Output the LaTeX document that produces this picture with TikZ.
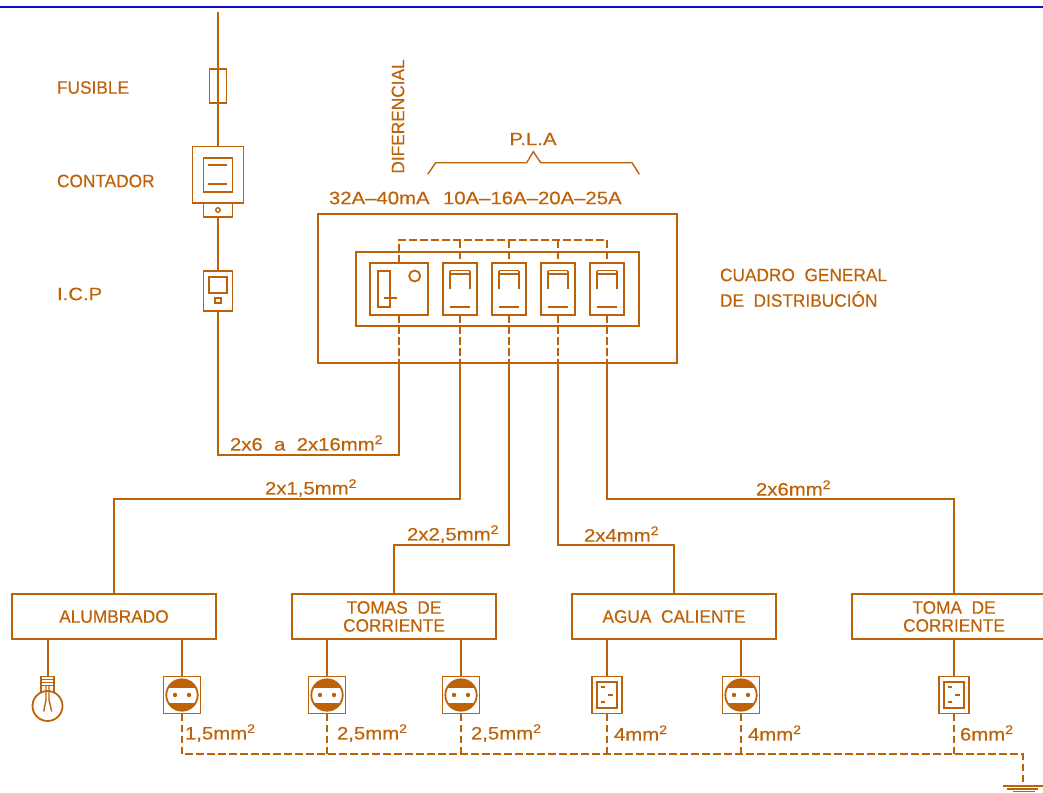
\documentclass[tikz,border=0pt]{standalone}
\usepackage{fontspec}
\setmainfont{Liberation Sans}
\newfontfamily\capsfont[FakeStretch=.96,FakeBold=.35]{Liberation Sans}
\newfontfamily\wirefont[FakeStretch=1.13,FakeBold=.35]{Liberation Sans}
\newcommand{\sqmm}{mm\raisebox{6.5pt}{\fontsize{12.5}{12.5}\selectfont 2}}
\definecolor{cad}{HTML}{BE6209}
\definecolor{sheet}{HTML}{0A0AD8}
\tikzset{
  wire/.style={draw=cad,line width=1.8pt},
  thinwire/.style={draw=cad,line width=1.4pt},
  dashwire/.style={draw=cad,line width=1.8pt,dash pattern=on 7.5pt off 3.5pt},
  cell/.style={draw=cad,line width=1.8pt,inner sep=0pt,outer sep=0pt},
  txt/.style={text=cad,font=\fontsize{18}{18}\selectfont\wirefont,inner sep=0pt,outer sep=0pt,anchor=west},
  captxt/.style={txt,font=\fontsize{18}{18}\selectfont\capsfont},
  load/.style={cell,minimum width=204.5pt,minimum height=45pt,text=cad,align=center,font=\fontsize{18}{18}\selectfont\capsfont},
  breaker/.style={cell,minimum width=34.5pt,minimum height=52.5pt},
  socket/.style={cell,minimum width=37pt,minimum height=37pt},
  heater/.style={cell,minimum width=30.5pt,minimum height=37pt}
}
\begin{document}
\begin{tikzpicture}[x=1pt,y=-1pt]
    \useasboundingbox (0,0) rectangle (1043,792);
    \draw[draw=sheet,line width=2pt] (0,7.5) -- (1043,7.5);

    % Acometida
    \coordinate (top) at (218,12);
    \node[cell,minimum width=17pt,minimum height=34pt] (fuse) at (218,86) {};
    \node[cell,minimum width=51pt,minimum height=56.5pt] (meter) at (218,174.7) {};
    \node[cell,minimum width=29pt,minimum height=34pt] (meterface) at (218,175) {};
    \node[cell,minimum width=29pt,minimum height=14pt] (meterbase) at (218,210) {};
    \node[cell,circle,minimum size=4.5pt,line width=1.4pt] (meterdot) at (218,210) {};
    \node[cell,minimum width=29pt,minimum height=40pt] (icp) at (218,291) {};
    \node[cell,minimum width=18pt,minimum height=16pt] (icpface) at (218,285) {};
    \node[cell,minimum width=5.5pt,minimum height=5.5pt] (icpdot) at (218,300.5) {};
    \draw[wire] (top) -- (fuse.north) -- (fuse.south) -- (meter.north);
    \draw[wire] (208,165) -- (227,165);
    \draw[wire] (208,184) -- (227,184);
    \draw[wire] (meterbase.south) -- (icp.north);

    % Cuadro
    \node[cell,minimum width=359pt,minimum height=149pt] (cuadro) at (497.5,288.5) {};
    \node[cell,minimum width=283.5pt,minimum height=74pt] (panel) at (497.5,288.7) {};
    \node[cell,minimum width=57.7pt,minimum height=52.5pt] (diff) at (399,289) {};
    \node[breaker] (brkA) at (460,289) {};
    \node[breaker] (brkB) at (509,289) {};
    \node[breaker] (brkC) at (558,289) {};
    \node[breaker] (brkD) at (607,289) {};
    \foreach \brk in {brkA,brkB,brkC,brkD}{
      \draw[wire] ([shift={(-9.7,-14.7)}]\brk.center) -- ++(0,14.7);
      \draw[wire] ([shift={(9.7,-14.7)}]\brk.center) -- ++(0,14.7);
      \draw[thinwire] ([shift={(-9.7,-18.3)}]\brk.center) -- ++(19.4,0);
      \draw[thinwire] ([shift={(-9.7,-15)}]\brk.center) -- ++(19.4,0);
      \draw[wire] ([shift={(-9.7,17.7)}]\brk.center) -- ++(19.4,0);
      \draw[wire] ([shift={(-9.7,-18.3)}]\brk.center) -- ++(0,4);
      \draw[wire] ([shift={(9.7,-18.3)}]\brk.center) -- ++(0,4);
    }
    \draw[wire] (378.3,270.7) rectangle (390,306.7);
    \draw[wire] (384.3,297.7) -- (396.7,297.7);
    \node[cell,circle,minimum size=11pt] (diffdot) at (414.7,276) {};
    \coordinate (link) at (399,240);
    \draw[dashwire] (diff.north) -- (link) -- (link -| brkD.north) -- (brkD.north);
    \foreach \brk in {brkA,brkB,brkC}{
      \draw[dashwire] (link -| \brk.north) -- (\brk.north);
    }
    \foreach \brk in {diff,brkA,brkB,brkC,brkD}{
      \draw[dashwire] (\brk.south) -- (\brk.south |- cuadro.south);
    }

    % Circuitos
    \node[load] (alum) at (114,616.5) {ALUMBRADO};
    \node[load] (tomas) at (394,616.5) {TOMAS\ \ DE\\CORRIENTE};
    \node[load] (agua) at (674,616.5) {AGUA\ \ CALIENTE};
    \node[load] (toma) at (954,616.5) {TOMA\ \ DE\\CORRIENTE};
    \coordinate (feed) at (399,455);
    \coordinate (busA) at (114,499);
    \coordinate (busB) at (394,545);
    \coordinate (busC) at (674,545);
    \coordinate (busD) at (954,499);
    \draw[wire] (icp.south) |- (feed) -- (diff.south |- cuadro.south);
    \draw[wire] (brkA.south |- cuadro.south) |- (busA) -- (alum.north);
    \draw[wire] (brkB.south |- cuadro.south) |- (busB) -- (tomas.north);
    \draw[wire] (brkC.south |- cuadro.south) |- (busC) -- (agua.north);
    \draw[wire] (brkD.south |- cuadro.south) |- (busD) -- (toma.north);

    % Receptores
    \node[socket] (sockA) at (182,695) {};
    \node[socket] (sockB) at (327,695) {};
    \node[socket] (sockC) at (461,695) {};
    \node[socket] (sockD) at (741,695) {};
    \node[heater] (heatA) at (607,695) {};
    \node[heater] (heatB) at (954,695) {};
    \foreach \sock in {sockA,sockB,sockC,sockD}{
      \begin{scope}
        \clip (\sock.center) circle (15.7pt);
        \fill[cad] ([shift={(-17,-17)}]\sock.center) rectangle ([shift={(17,-7.5)}]\sock.center);
        \fill[cad] ([shift={(-17,7.5)}]\sock.center) rectangle ([shift={(17,17)}]\sock.center);
      \end{scope}
      \draw[wire] (\sock.center) circle (15.7pt);
      \fill[cad] ([xshift=-7pt]\sock.center) circle (2.2pt);
      \fill[cad] ([xshift=7pt]\sock.center) circle (2.2pt);
    }
    \foreach \heat in {heatA,heatB}{
      \draw[wire] ([shift={(-9.7,-12.8)}]\heat.center) rectangle ([shift={(9.7,12.8)}]\heat.center);
      \draw[wire] ([shift={(-6.3,-7.7)}]\heat.center) -- ++(4.5,0);
      \draw[wire] ([shift={(1.3,0)}]\heat.center) -- ++(5,0);
      \draw[wire] ([shift={(-6.3,7.3)}]\heat.center) -- ++(4.5,0);
    }
    \foreach \dev in {sockA,sockB,sockC,heatA,sockD,heatB}{
      \draw[wire] (\dev.north) -- (\dev.north |- alum.south);
    }

    % Lampara
    \node[cell,circle,minimum size=30pt] (lamp) at (47.5,706) {};
    \coordinate (lamptop) at (48,676.3);
    \draw[wire] (lamptop) -- (lamptop |- alum.south);
    \draw[thinwire] (41,676.3) -- (54,676.3) (41,679.3) -- (54,679.3) (41,682.3) -- (54,682.3) (41,685.3) -- (54,685.3);
    \draw[thinwire] (41,676.3) -- (41,692) (54,676.3) -- (54,692);
    \draw[thinwire] (46,685.3) -- (46,700) -- (43.7,711.5);
    \draw[thinwire] (49,685.3) -- (49,700) -- (51.7,711.5);

    % Tierra
    \coordinate (earth) at (1023,754.3);
    \coordinate (gnd) at (1023,786);
    \draw[dashwire] (sockA.south) |- (earth) -- (gnd);
    \foreach \dev in {sockB,sockC,heatA,sockD,heatB}{
      \draw[dashwire] (\dev.south) -- (\dev.south |- earth);
    }
    \draw[thinwire] (1003.3,786) -- (1043,786);
    \draw[thinwire] (1007,788.8) -- (1038,788.8);
    \draw[thinwire] (1013,791.5) -- (1035,791.5);

    % Textos
    \node[captxt] (tfuse) at (57,87.5) {FUSIBLE};
    \node[captxt] (tmeter) at (57,181) {CONTADOR};
    \node[txt] (ticp) at (57,294) {I.C.P};
    \node[captxt,anchor=center,rotate=90] (tdiff) at (398,116.5) {DIFERENCIAL};
    \node[txt,anchor=center] (tpla) at (533,139) {P.L.A};
    \draw[thinwire] (427.7,174.3) -- (435.7,162.7) -- (526.7,162.7) -- (533.3,151.7) -- (540.7,162.7) -- (632,162.7) -- (639.3,174.3);
    \node[txt] (tdiffval) at (329,198) {32A–40mA};
    \node[txt] (tplaval) at (443,198) {10A–16A–20A–25A};
    \node[captxt] (tcuadroA) at (720,275) {CUADRO\ \ GENERAL};
    \node[captxt] (tcuadroB) at (720,299) {DE\ \ DISTRIBUCIÓN};
    \node[txt] (tfeed) at (230,443) {2x6\ \ a\ \ 2x16\sqmm};
    \node[txt] (tbusA) at (265,488) {2x1,5\sqmm};
    \node[txt] (tbusB) at (407,534) {2x2,5\sqmm};
    \node[txt] (tbusC) at (584,534) {2x4\sqmm};
    \node[txt] (tbusD) at (756,488) {2x6\sqmm};
    \node[txt] (tearthA) at (185,733) {1,5\sqmm};
    \node[txt] (tearthB) at (337,733) {2,5\sqmm};
    \node[txt] (tearthC) at (471,733) {2,5\sqmm};
    \node[txt] (tearthD) at (614,733) {4\sqmm};
    \node[txt] (tearthE) at (748,733) {4\sqmm};
    \node[txt] (tearthF) at (960,733) {6\sqmm};
\end{tikzpicture}
\end{document}
